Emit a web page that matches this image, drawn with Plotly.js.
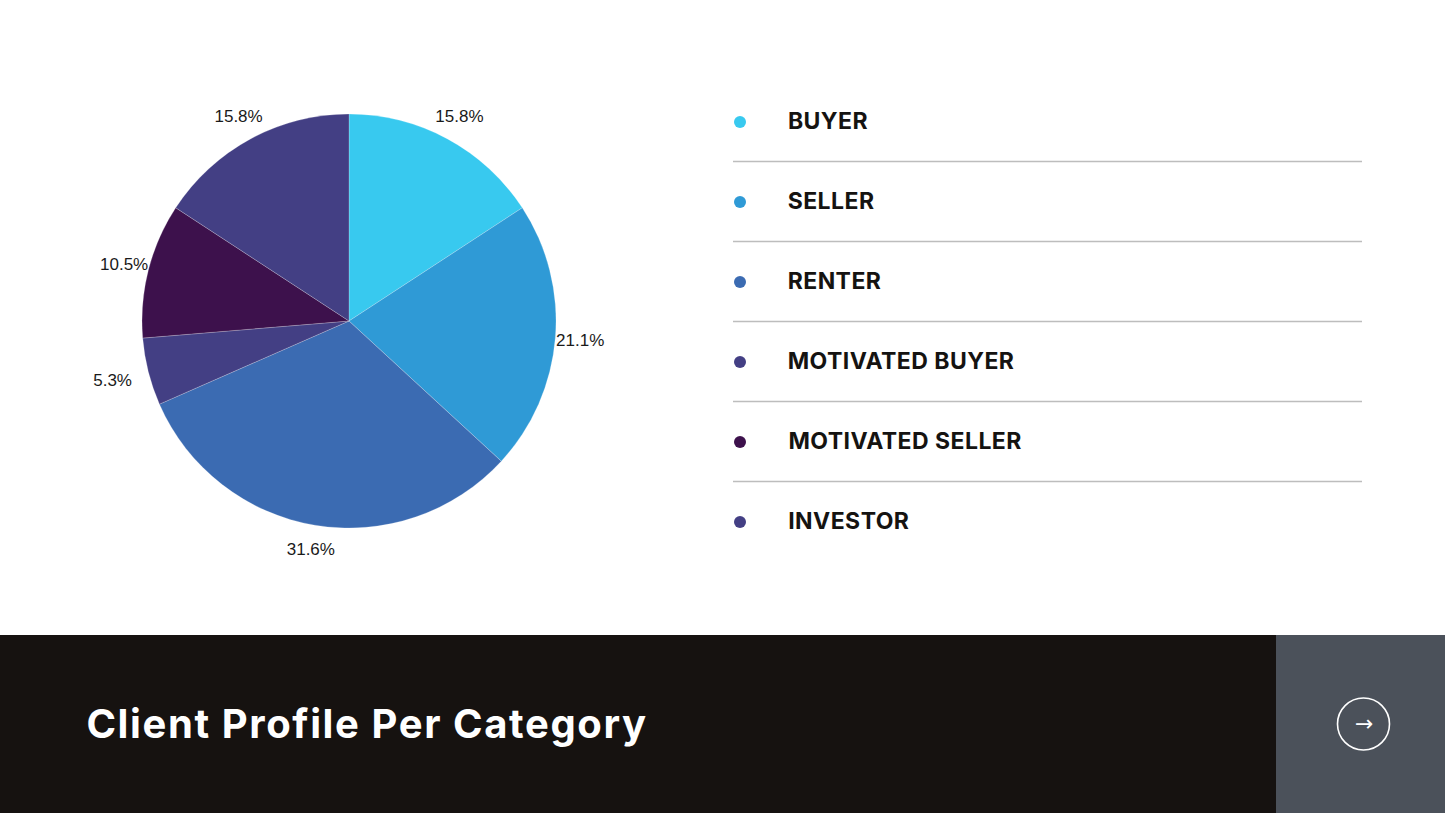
<!DOCTYPE html>
<html>
<head>
<meta charset="utf-8">
<script src="https://cdn.plot.ly/plotly-3.0.1.min.js"></script>
<style>
  html, body { margin: 0; padding: 0; background: #ffffff; }
  #chart { width: 1445px; height: 813px; }
</style>
</head>
<body>
<div id="chart"></div>
<script>
const categories = ["BUYER", "SELLER", "RENTER", "MOTIVATED BUYER", "MOTIVATED SELLER", "INVESTOR"];
const clientCounts = [3, 4, 6, 1, 2, 3];
const sliceColors = ["#38C9EF", "#2F9AD6", "#3B6BB2", "#433F84", "#3D114C", "#433F84"];
const chartTitle = "Client Profile Per Category";

const W = 1445, H = 813;
const px = x => x / W;
const py = y => 1 - y / H;

const CX = 349, CY = 321, R = 207, RL = 284;
const TITLE_LS = 1.6, LEG_LS = 0.45;

const pie = {
  type: "pie",
  labels: categories,
  values: clientCounts,
  sort: false,
  direction: "clockwise",
  rotation: 0,
  marker: { colors: sliceColors, line: { color: "rgba(255,255,255,0.35)", width: 0.6 } },
  textinfo: "none",
  domain: { x: [px(CX - R), px(CX + R)], y: [py(CY + R), py(CY - R)] },
  showlegend: false,
  hoverinfo: "label+percent"
};

// transparent ring carrying the percentage labels around the pie
const labelRing = {
  type: "pie",
  labels: categories,
  values: clientCounts,
  sort: false,
  direction: "clockwise",
  rotation: 0,
  hole: 180 / RL,
  marker: { colors: categories.map(() => "rgba(0,0,0,0)"), line: { width: 0 } },
  texttemplate: "%{percent:.1%}",
  textposition: "inside",
  insidetextorientation: "horizontal",
  textfont: { family: "Liberation Sans, Arial, sans-serif", size: 17, color: "#1a1a1a" },
  insidetextfont: { family: "Liberation Sans, Arial, sans-serif", size: 17, color: "#1a1a1a" },
  domain: { x: [px(CX - RL), px(CX + RL)], y: [py(CY + RL), py(CY - RL)] },
  showlegend: false,
  hoverinfo: "skip"
};

const shapes = [];
const annotations = [];

// legend rows
const rowY0 = 121, rowStep = 80;
categories.forEach((c, i) => {
  const y = rowY0 + i * rowStep;
  shapes.push({
    type: "circle", xref: "paper", yref: "paper",
    x0: px(734), x1: px(746), y0: py(y + 7), y1: py(y - 5),
    fillcolor: sliceColors[i], line: { width: 0 }
  });
  annotations.push({
    xref: "paper", yref: "paper", x: px(786 + c.length * LEG_LS / 2), y: py(y),
    xanchor: "left", yanchor: "middle", showarrow: false,
    text: "<b>" + c + "</b>",
    font: { family: "Inter, Lato, sans-serif", size: 23, color: "#151311" }
  });
  if (i < categories.length - 1) {
    shapes.push({
      type: "line", xref: "paper", yref: "paper",
      x0: px(733), x1: px(1362), y0: py(y + 40.5), y1: py(y + 40.5),
      line: { color: "#BDBDBD", width: 1.3 }
    });
  }
});

// footer band
shapes.push({ type: "rect", xref: "paper", yref: "paper", x0: 0, x1: 1, y0: 0, y1: py(635),
  fillcolor: "#161210", line: { width: 0 }, layer: "below" });
shapes.push({ type: "rect", xref: "paper", yref: "paper", x0: px(1276), x1: 1, y0: 0, y1: py(635),
  fillcolor: "#4B515A", line: { width: 0 }, layer: "below" });
shapes.push({ type: "circle", xref: "paper", yref: "paper",
  x0: px(1337.5), x1: px(1389.5), y0: py(750), y1: py(698),
  line: { color: "#ffffff", width: 1.6 } });

annotations.push({
  xref: "paper", yref: "paper", x: px(1363.5), y: py(723),
  xanchor: "center", yanchor: "middle", showarrow: false,
  text: "→", font: { family: "DejaVu Sans, sans-serif", size: 22, color: "#ffffff" }
});
annotations.push({
  xref: "paper", yref: "paper", x: px(84 + chartTitle.length * TITLE_LS / 2), y: py(723),
  xanchor: "left", yanchor: "middle", showarrow: false,
  text: "<b>" + chartTitle + "</b>",
  font: { family: "Inter, Lato, sans-serif", size: 40, color: "#ffffff" }
});

const layout = {
  width: W, height: H,
  margin: { l: 0, r: 0, t: 0, b: 0 },
  paper_bgcolor: "#ffffff",
  plot_bgcolor: "#ffffff",
  showlegend: false,
  shapes: shapes,
  annotations: annotations
};

Plotly.newPlot("chart", [pie, labelRing], layout, { displayModeBar: false, staticPlot: true }).then(() => {
  document.querySelectorAll("#chart .annotation-text").forEach(t => {
    const s = t.textContent;
    if (s === chartTitle) t.style.letterSpacing = TITLE_LS + "px";
    else if (categories.includes(s)) t.style.letterSpacing = LEG_LS + "px";
  });
});
</script>
</body>
</html>
